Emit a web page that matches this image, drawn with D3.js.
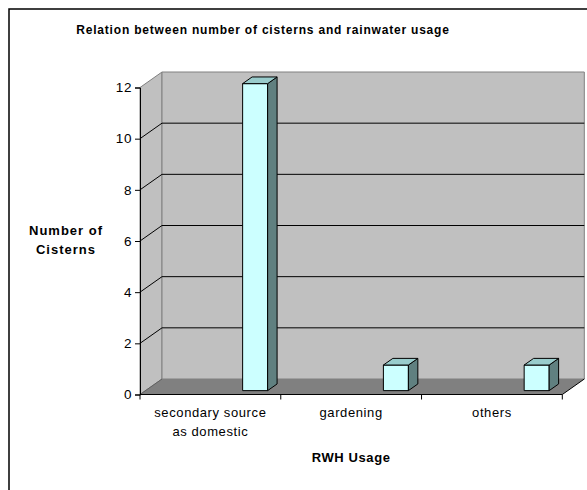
<!DOCTYPE html>
<html>
<head>
<meta charset="utf-8">
<script src="https://cdn.jsdelivr.net/npm/d3@7"></script>
<style>
  html, body { margin: 0; padding: 0; background: #fff; }
  svg { display: block; font-family: Arial, "Liberation Sans", sans-serif; }
</style>
</head>
<body>
<svg id="chart" width="587" height="490"></svg>
<script>
// Chart data
const categories = ["secondary source as domestic", "gardening", "others"];
const cisterns = [12, 1, 1];
const yTicks = [0, 2, 4, 6, 8, 10, 12];
const chartTitle = "Relation between number of cisterns and rainwater usage";
const xTitle = "RWH Usage";
const yTitleLines = ["Number of", "Cisterns"];

(function () {
  const svg = d3.select("#chart");

  // Front plane of the 3-D box
  const plotLeft = 140, plotRight = 562.3, plotBottom = 394.5, plotTop = 87.5;
  // Depth projection (full depth of the box)
  const DX = 22, DY = -15.5;
  const proj = (px, py, z) => [px + z * DX, py + z * DY];

  const x = d3.scaleBand().domain(categories).range([plotLeft, plotRight]).paddingInner(0).paddingOuter(0);
  const y = d3.scaleLinear().domain([0, 12]).range([plotBottom, plotTop]);

  // Outer chart frame
  svg.append("rect")
    .attr("x", 9).attr("y", 9).attr("width", 620).attr("height", 520)
    .attr("fill", "#fff").attr("stroke", "#000").attr("stroke-width", 1.5);

  const poly = pts => pts.map(p => p.join(",")).join(" ");

  // Side wall (left)
  svg.append("polygon")
    .attr("points", poly([proj(plotLeft, y(0), 0), proj(plotLeft, y(12), 0), proj(plotLeft, y(12), 1), proj(plotLeft, y(0), 1)]))
    .attr("fill", "#c0c0c0").attr("stroke", "#808080").attr("stroke-width", 1);

  // Back wall
  svg.append("polygon")
    .attr("points", poly([proj(plotLeft, y(0), 1), proj(plotLeft, y(12), 1), proj(plotRight, y(12), 1), proj(plotRight, y(0), 1)]))
    .attr("fill", "#c0c0c0").attr("stroke", "#808080").attr("stroke-width", 1);

  // Floor
  svg.append("polygon")
    .attr("points", poly([proj(plotLeft, y(0), 0), proj(plotRight, y(0), 0), proj(plotRight, y(0), 1), proj(plotLeft, y(0), 1)]))
    .attr("fill", "#808080").attr("stroke", "none");
  svg.append("line")
    .attr("x1", proj(plotRight, y(0), 0)[0]).attr("y1", proj(plotRight, y(0), 0)[1])
    .attr("x2", proj(plotRight, y(0), 1)[0]).attr("y2", proj(plotRight, y(0), 1)[1])
    .attr("stroke", "#000").attr("stroke-width", 1);
  svg.append("line")
    .attr("x1", proj(plotLeft, y(0), 0)[0]).attr("y1", proj(plotLeft, y(0), 0)[1])
    .attr("x2", proj(plotLeft, y(0), 1)[0]).attr("y2", proj(plotLeft, y(0), 1)[1])
    .attr("stroke", "#606060").attr("stroke-width", 1);

  // Gridlines on side and back walls
  const grid = svg.append("g").attr("stroke", "#000").attr("stroke-width", 1).attr("fill", "none");
  yTicks.filter(v => v > 0 && v < 12).forEach(v => {
    const a = proj(plotLeft, y(v), 0), b = proj(plotLeft, y(v), 1), c = proj(plotRight, y(v), 1);
    grid.append("polyline").attr("points", poly([a, b, c]));
  });

  // 3-D columns
  const zFront = 0.25, zBack = 0.68;
  const barOffset = 0.69, barWidth = 25;
  const bars = svg.append("g").attr("stroke", "#000").attr("stroke-width", 1).attr("stroke-linejoin", "round");
  categories.forEach((cat, i) => {
    const x0 = x(cat) + barOffset * x.bandwidth();
    const x1 = x0 + barWidth;
    const yb = y(0), ytop = y(cisterns[i]);
    // front face
    bars.append("polygon")
      .attr("points", poly([proj(x0, yb, zFront), proj(x0, ytop, zFront), proj(x1, ytop, zFront), proj(x1, yb, zFront)]))
      .attr("fill", "#ccffff");
    // right side face
    bars.append("polygon")
      .attr("points", poly([proj(x1, yb, zFront), proj(x1, ytop, zFront), proj(x1, ytop, zBack), proj(x1, yb, zBack)]))
      .attr("fill", "#608080");
    // top face
    bars.append("polygon")
      .attr("points", poly([proj(x0, ytop, zFront), proj(x0, ytop, zBack), proj(x1, ytop, zBack), proj(x1, ytop, zFront)]))
      .attr("fill", "#99cccc");
  });

  // Y axis
  const yAxis = d3.axisLeft(y).tickValues(yTicks).tickSize(5).tickPadding(3).tickFormat(d3.format("d"));
  const yg = svg.append("g").attr("transform", `translate(${plotLeft},0)`).call(yAxis);
  yg.select(".domain").attr("stroke", "#000");
  yg.selectAll(".tick line").attr("stroke", "#000");
  yg.selectAll(".tick text").attr("font-size", 13.5).attr("fill", "#000").attr("letter-spacing", 0.6)
    .attr("font-family", "Arial, 'Liberation Sans', sans-serif");

  // X axis (boundary ticks between categories)
  const xg = svg.append("g").attr("transform", `translate(0,${plotBottom})`);
  xg.append("line").attr("x1", plotLeft).attr("x2", plotRight).attr("stroke", "#000");
  const bounds = categories.map(c => x(c)).concat([plotRight]);
  xg.selectAll("line.tk").data(bounds).join("line").attr("class", "tk")
    .attr("x1", d => d).attr("x2", d => d).attr("y1", 0).attr("y2", 5).attr("stroke", "#000");

  // Category labels, wrapped to the band width
  const catLabels = svg.append("g").attr("font-size", 13).attr("fill", "#000").attr("text-anchor", "middle")
    .attr("letter-spacing", 0.6);
  categories.forEach(cat => {
    const cx = x(cat) + x.bandwidth() / 2;
    const t = catLabels.append("text").attr("x", cx).attr("y", 417);
    const words = cat.split(" ");
    let line = [];
    let tspan = t.append("tspan").attr("x", cx).attr("dy", 0);
    words.forEach(w => {
      line.push(w);
      tspan.text(line.join(" "));
      if (tspan.node().getComputedTextLength() > 120 && line.length > 1) {
        line.pop();
        tspan.text(line.join(" "));
        line = [w];
        tspan = t.append("tspan").attr("x", cx).attr("dy", 19).text(w);
      }
    });
  });

  // Titles
  svg.append("text").attr("x", 263).attr("y", 34).attr("text-anchor", "middle")
    .attr("font-size", 12).attr("font-weight", "bold").attr("letter-spacing", 0.8).text(chartTitle);

  svg.append("text").attr("x", (plotLeft + plotRight) / 2).attr("y", 462).attr("text-anchor", "middle")
    .attr("font-size", 13).attr("font-weight", "bold").attr("letter-spacing", 0.6).text(xTitle);

  const yTitle = svg.append("text").attr("text-anchor", "middle")
    .attr("font-size", 13).attr("font-weight", "bold").attr("letter-spacing", 1);
  yTitleLines.forEach((l, i) => {
    yTitle.append("tspan").attr("x", 66).attr("y", 235 + i * 19).text(l);
  });
})();
</script>
</body>
</html>
